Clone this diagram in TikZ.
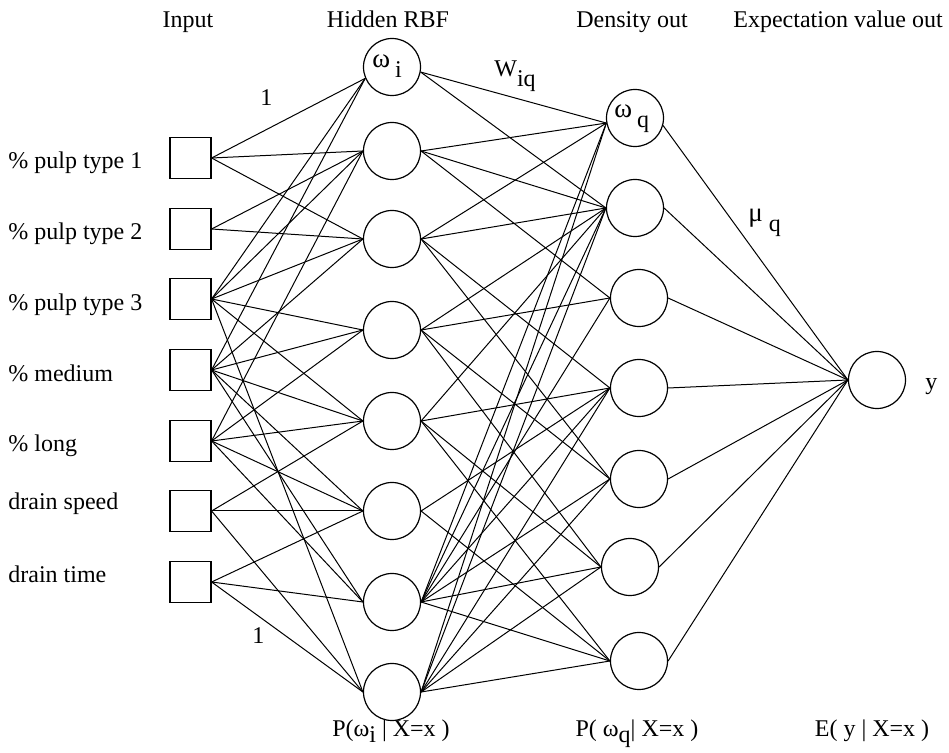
\documentclass[tikz,border=0pt]{standalone}
\usepackage{fontspec}
\setmainfont{Liberation Serif}
\newcommand{\lowered}[1]{\raisebox{-5pt}{#1}}
\newcommand{\lowerlittle}[1]{\raisebox{-3pt}{#1}}
\begin{document}
\begin{tikzpicture}[x=0.5pt,y=-0.5pt,
  every node/.style={font=\fontsize{12}{14}\selectfont, inner sep=0pt},
  inbox/.style={draw, minimum size=20.5pt, line width=0.6pt},
  unit/.style={draw, circle, minimum size=28.5pt, line width=0.6pt},
  link/.style={line width=0.5pt},
  lbl/.style={anchor=base west},
  txt/.style={anchor=base west},
  head/.style={anchor=base},
  greek/.style={anchor=base west, font=\fontsize{13.5}{15}\selectfont}]
\useasboundingbox (0,0) rectangle (949,753);

% column headings
\node[head] (tIn)  at (188,28) {Input};
\node[head] (tHid) at (388,28) {Hidden RBF};
\node[head] (tDen) at (632,28) {Density out};
\node[head] (tExp) at (838,28) {Expectation value out};

% input squares and their names
\foreach \k/\y/\ly/\name in {1/158/169/\% pulp type 1, 2/229/240/\% pulp type 2,
    3/299/311/\% pulp type 3, 4/370/382/\% medium, 5/441/452/\% long,
    6/511/510/drain speed, 7/582/583/drain time} {
  \node[inbox] (i\k) at (190.5,\y) {};
  \node[lbl] (n\k) at (8,\ly) {\name};
}

% hidden RBF units
\foreach \k/\y in {1/67,2/151,3/239,4/330,5/421,6/511,7/602,8/692}
  \node[unit] (h\k) at (392,\y) {};
% density units
\foreach \k/\x/\y in {1/635/118,2/635/208,3/639/298,4/639/388,5/639/479,6/630/567,7/639/661}
  \node[unit] (d\k) at (\x,\y) {};
% output unit
\node[unit] (out) at (877,380) {};

% attachment points
\foreach \k in {2,...,8} {
  \coordinate (h\k-in) at (h\k.west);
  \coordinate (h\k-out) at (h\k.east);
}
\coordinate (h1-in) at (h1.203);
\coordinate (h1-out) at (h1.350);
\foreach \k in {2,...,7} {
  \coordinate (d\k-in) at (d\k.west);
  \coordinate (d\k-out) at (d\k.east);
}
\coordinate (d1-in) at (d1.190);
\coordinate (d1-out) at (d1.345);

% input -> hidden
\foreach \a/\b in {1/1,1/2,1/3, 2/2,2/3,
    3/1,3/2,3/3,3/4,3/5,3/8,
    4/1,4/3,4/4,4/5,4/6,4/7,
    5/2,5/4,5/5,5/6,5/7,
    6/5,6/6,6/8,
    7/6,7/7,7/8}
  \draw[link] (i\a.east) -- (h\b-in);

% hidden -> density
\foreach \a/\b in {1/1,1/2,
    2/1,2/2,2/3,
    3/1,3/2,3/4,3/5,
    4/2,4/3,4/5,4/6,
    5/2,5/4,5/6,5/7,
    6/4,6/7,
    7/1,7/2,7/3,7/4,7/5,7/6,7/7,
    8/1,8/2,8/4,8/5,8/6,8/7}
  \draw[link] (h\a-out) -- (d\b-in);

% density -> output
\foreach \a in {1,...,7}
  \draw[link] (d\a-out) -- (out.west);

% labels inside and beside the units
\node[greek] (lwi) at (372,68) {ω\hspace{2.5pt}\lowered{\fontsize{12}{14}\selectfont i}};
\node[greek] (lwq) at (614,118) {ω\hspace{2.5pt}\lowered{\fontsize{12}{14}\selectfont q}};
\node[txt]   (lW)  at (494,77) {W\lowered{iq}};
\node[greek] (lmu) at (748,222) {μ\hspace{3pt}\lowered{\fontsize{12}{14}\selectfont q}};
\node[txt]   (ly)  at (925,390) {y};
\node[txt]   (one1) at (260,106) {1};
\node[txt]   (one2) at (252,644) {1};

% bottom formulas
\node[head] (fP1) at (391,737) {P(ω\lowerlittle{i} | X=x )};
\node[head] (fP2) at (637,737) {P( ω\lowerlittle{q}| X=x )};
\node[head] (fE)  at (872,737) {E( y | X=x )};
\end{tikzpicture}
\end{document}
